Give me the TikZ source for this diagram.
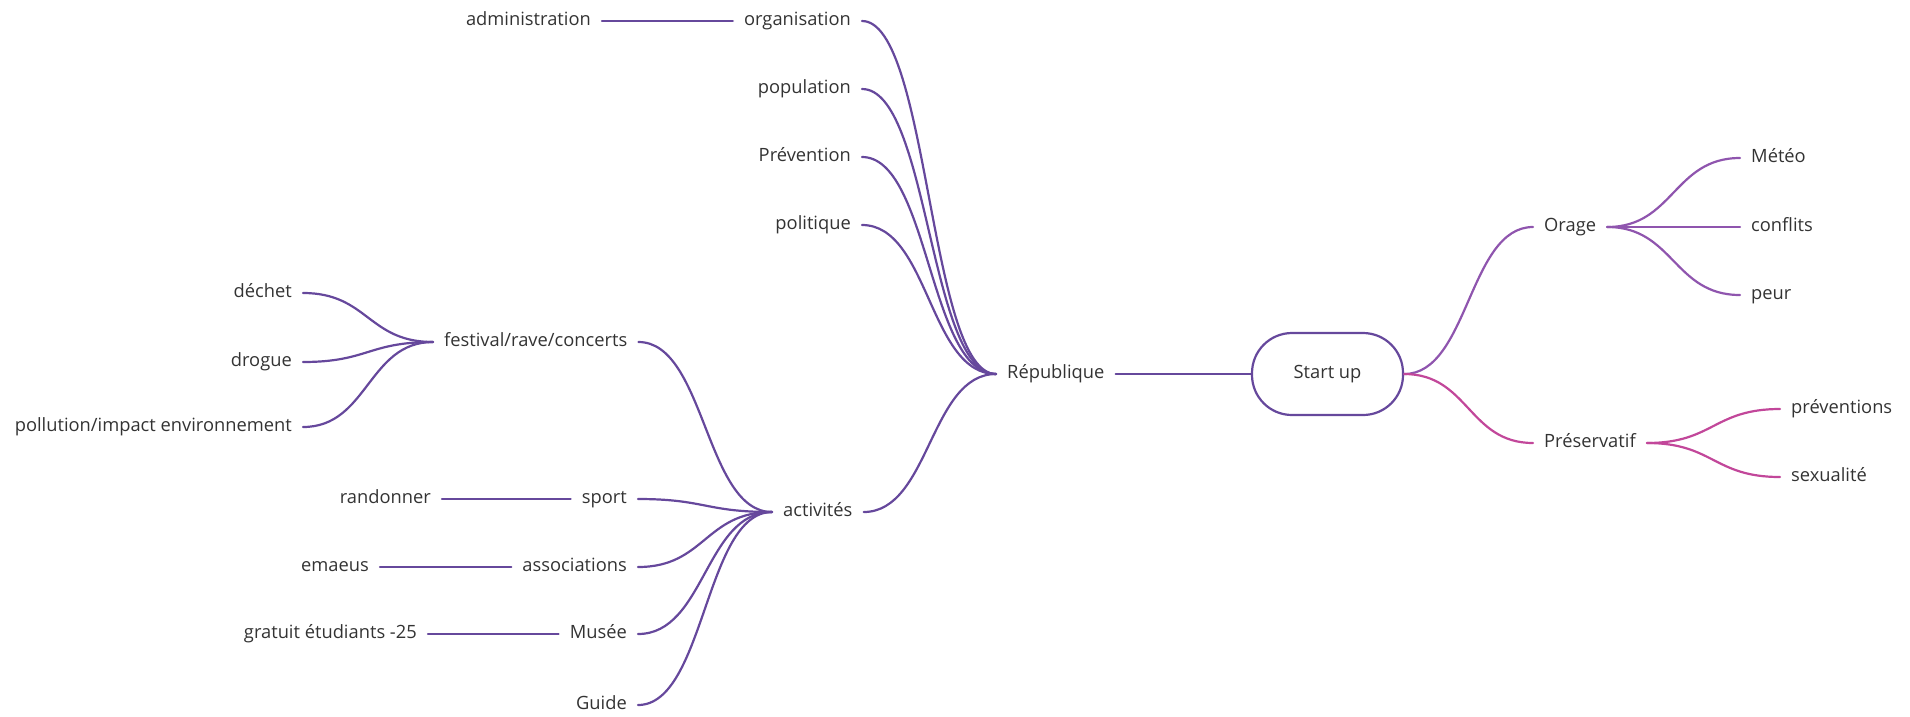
\documentclass[tikz,border=0pt]{standalone}
\usepackage{fontspec}
\setmainfont{Open Sans}
\usetikzlibrary{calc}

\definecolor{mmpurple}{HTML}{66489C}
\definecolor{mmlilac}{HTML}{8F55AE}
\definecolor{mmpink}{HTML}{C2479A}
\definecolor{mmtext}{HTML}{333333}

\tikzset{
  topic/.style={font=\fontsize{18.3}{22}\selectfont, text=mmtext,
    inner xsep=11pt, inner ysep=0pt, text height=13pt, text depth=4pt},
  link/.style={draw=mmpurple, line width=2.2pt, line cap=round},
  sbend/.style={to path={
    let \p1=(\tikztostart), \p2=(\tikztotarget) in
    .. controls ({0.5*(\x1+\x2)},\y1) and ({0.5*(\x1+\x2)},\y2) .. (\tikztotarget) \tikztonodes}},
  central/.style={topic, draw=mmpurple, line width=2.2pt, rounded corners=40pt,
    minimum width=151pt, minimum height=82pt}
}

\begin{document}
\begin{tikzpicture}[x=1pt,y=-1pt]
\useasboundingbox (0,0) rectangle (1910,716);

% central topic and its left neighbour
\node[central] (start) at (1327.5,374) {Start up};
\node[topic, anchor=west] (rep) at (996,374) {République};

% upper branch of République
\node[topic, anchor=east] (org)  at (862,21)  {organisation};
\node[topic, anchor=east] (pop)  at (862,89)  {population};
\node[topic, anchor=east] (prev) at (862,157) {Prévention};
\node[topic, anchor=east] (pol)  at (862,225) {politique};
\node[topic, anchor=east] (adm)  at (602,21)  {administration};

% activités and its sub-topics
\node[topic, anchor=west] (act)  at (772,512) {activités};
\node[topic, anchor=west] (fest) at (433,342) {festival/rave/concerts};
\node[topic, anchor=east] (dech) at (303,293) {déchet};
\node[topic, anchor=east] (drog) at (303,362) {drogue};
\node[topic, anchor=east] (poll) at (303,427) {pollution/impact environnement};

\node[topic, anchor=east] (sport) at (638,499) {sport};
\node[topic, anchor=east] (assoc) at (638,567) {associations};
\node[topic, anchor=east] (musee) at (638,634) {Musée};
\node[topic, anchor=east] (guide) at (638,705) {Guide};
\node[topic, anchor=east] (rando) at (442,499) {randonner};
\node[topic, anchor=east] (emae)  at (380,567) {emaeus};
\node[topic, anchor=east] (grat)  at (428,634) {gratuit étudiants -25};

% right-hand branches
\node[topic, anchor=west] (orage) at (1533,227) {Orage};
\node[topic, anchor=west] (meteo) at (1740,158) {Météo};
\node[topic, anchor=west] (confl) at (1740,227) {conflits};
\node[topic, anchor=west] (peur)  at (1740,295) {peur};

\node[topic, anchor=west] (pres)  at (1533,443) {Préservatif};
\node[topic, anchor=west] (prevs) at (1780,409) {préventions};
\node[topic, anchor=west] (sexu)  at (1780,477) {sexualité};

% connectors, left side
\draw[link] (rep.east) -- (start.west);
\draw[link] (org.east)  to[sbend] (rep.west);
\draw[link] (pop.east)  to[sbend] (rep.west);
\draw[link] (prev.east) to[sbend] (rep.west);
\draw[link] (pol.east)  to[sbend] (rep.west);
\draw[link] (adm.east) -- (org.west);

\draw[link] (act.east)  to[sbend] (rep.west);
\draw[link] (fest.east) to[sbend] (act.west);
\draw[link] (dech.east) to[sbend] (fest.west);
\draw[link] (drog.east) to[sbend] (fest.west);
\draw[link] (poll.east) to[sbend] (fest.west);

\draw[link] (sport.east) to[sbend] (act.west);
\draw[link] (assoc.east) to[sbend] (act.west);
\draw[link] (musee.east) to[sbend] (act.west);
\draw[link] (guide.east) to[sbend] (act.west);
\draw[link] (rando.east) -- (sport.west);
\draw[link] (emae.east)  -- (assoc.west);
\draw[link] (grat.east)  -- (musee.west);

% connectors, right side
\draw[link, draw=mmlilac] (start.east) to[sbend] (orage.west);
\draw[link, draw=mmlilac] (orage.east) to[sbend] (meteo.west);
\draw[link, draw=mmlilac] (orage.east) to[sbend] (confl.west);
\draw[link, draw=mmlilac] (orage.east) to[sbend] (peur.west);

\draw[link, draw=mmpink] (start.east) to[sbend] (pres.west);
\draw[link, draw=mmpink] (pres.east) to[sbend] (prevs.west);
\draw[link, draw=mmpink] (pres.east) to[sbend] (sexu.west);
\end{tikzpicture}
\end{document}
